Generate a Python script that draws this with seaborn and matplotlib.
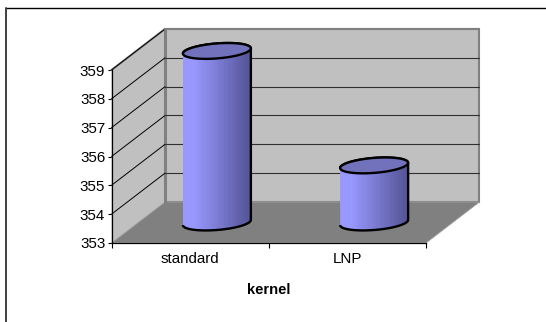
import matplotlib

matplotlib.use("Agg")
import matplotlib.pyplot as plt
import numpy as np
import pandas as pd
import seaborn as sns
from matplotlib.lines import Line2D
from matplotlib.patches import PathPatch, Polygon
from matplotlib.path import Path

CATEGORIES = ["standard", "LNP"]
VALUES = [358.95, 354.98]
Y_TICKS = [353, 354, 355, 356, 357, 358, 359]
X_LABEL = "kernel"

WIDTH_PX, HEIGHT_PX = 546, 322
BASE = Y_TICKS[0]
TOP = Y_TICKS[-1]
# depth of the fake 3d box, in data units
DX = 53.5 / 157.25
DY = 41.0 / 28.83
BAR_WIDTH = 68 / 157.25
RY = 7.5 / 28.83
TILT = 2.6 / 28.83
WALL = "#c0c0c0"
FLOOR = "#808080"


def ellipse_xy(cx, cy, start, stop, n=60):
    t = np.linspace(start, stop, n)
    rx = BAR_WIDTH / 2
    return cx + rx * np.cos(t), cy + RY * np.sin(t) + TILT * np.cos(t)


def draw_walls(ax):
    x0, x1 = -0.5, 1.5
    ax.add_patch(Polygon([(x0 + DX, BASE + DY), (x1 + DX, BASE + DY), (x1 + DX, TOP + DY), (x0 + DX, TOP + DY)],
                         fc=WALL, ec=FLOOR, lw=1.5, clip_on=False, zorder=1))
    ax.add_patch(Polygon([(x0, BASE), (x0 + DX, BASE + DY), (x0 + DX, TOP + DY), (x0, TOP)],
                         fc=WALL, ec="none", clip_on=False, zorder=1))
    ax.add_patch(Polygon([(x0, BASE), (x1, BASE), (x1 + DX, BASE + DY), (x0 + DX, BASE + DY)],
                         fc=FLOOR, ec="#a0a0a0", lw=0.6, clip_on=False, zorder=1.5))
    ax.add_line(Line2D([x0, x0 + DX], [TOP, TOP + DY], color=FLOOR, lw=1.5, clip_on=False, zorder=2))
    ax.add_line(Line2D([x0 + DX, x0 + DX], [BASE + DY, TOP + DY], color=FLOOR, lw=2.2, clip_on=False, zorder=2))
    for tick in Y_TICKS[1:]:
        ax.add_line(Line2D([x0, x0 + DX], [tick, tick + DY], color="black", lw=0.7, clip_on=False, zorder=2))
        if tick != TOP:
            ax.add_line(Line2D([x0 + DX, x1 + DX], [tick + DY, tick + DY], color="#303030", lw=0.8,
                               clip_on=False, zorder=2))
    ax.add_line(Line2D([x0 + DX, x1 + DX], [TOP + DY, TOP + DY], color=FLOOR, lw=1.5, clip_on=False, zorder=2))


def draw_cylinder(ax, bar):
    value = bar.get_height()
    left = bar.get_x() + DX / 2
    width = bar.get_width()
    cx = left + width / 2
    low = BASE + DY / 2
    high = value + DY / 2
    bar.set_visible(False)

    bx, by = ellipse_xy(cx, low, np.pi, 2 * np.pi)
    tx, ty = ellipse_xy(cx, high, 0, np.pi)
    outline = np.column_stack([np.r_[bx, tx], np.r_[by, ty]])
    body = PathPatch(Path(outline, closed=False), fc="none", ec="black", lw=1.7, clip_on=False, zorder=4)

    # stepped shading, the original gradient shows vertical bands
    shade = np.interp(np.linspace(0, 1, 28), [0, 0.15, 0.55, 1], [0.0, 0.0, 0.45, 1.0])
    light = np.array([152, 152, 255]) / 255
    dark = np.array([84, 84, 150]) / 255
    colours = (light + (dark - light) * shade[:, None])[None, :, :]
    image = ax.imshow(colours, extent=(left, left + width, low - RY * 1.3, high + RY * 1.3),
                      aspect="auto", zorder=3, interpolation="nearest")
    image.set_clip_box(ax.figure.bbox)
    image.set_clip_path(Polygon(outline, closed=True, transform=ax.transData))
    ax.add_patch(body)

    ex, ey = ellipse_xy(cx, high, 0, 2 * np.pi)
    ax.add_patch(Polygon(np.column_stack([ex, ey]), fc="#7272bc", ec="black", lw=1.7, clip_on=False, zorder=5))


def main():
    sns.set_theme(style="white")
    plt.rcParams["font.family"] = ["Liberation Sans", "DejaVu Sans"]
    fig = plt.figure(figsize=(WIDTH_PX / 100, HEIGHT_PX / 100), dpi=100)
    ax = fig.add_axes([111.5 / WIDTH_PX, 1 - 243 / HEIGHT_PX, 314.5 / WIDTH_PX, 173 / HEIGHT_PX])

    data = pd.DataFrame({"kernel": CATEGORIES, "value": VALUES})
    sns.barplot(data=data, x="kernel", y="value", width=BAR_WIDTH, ax=ax)
    ax.set_xlim(-0.5, 1.5)
    ax.set_ylim(BASE, TOP)
    bars = list(ax.patches)

    draw_walls(ax)
    for bar in bars:
        draw_cylinder(ax, bar)
    ax.set_xlim(-0.5, 1.5)
    ax.set_ylim(BASE, TOP)

    ax.set_yticks(Y_TICKS)
    ax.set_xticks([0, 1], CATEGORIES)
    ax.set_xticks([-0.5, 0.5, 1.5], minor=True)
    ax.tick_params(axis="x", which="major", length=0, labelsize=10.9, pad=6.5, labelcolor="black")
    ax.tick_params(axis="x", which="minor", length=3.5, width=0.8, color="black", bottom=True)
    ax.tick_params(axis="y", length=3, width=0.8, color="black", labelcolor="black", labelsize=10.9, pad=1.5, left=True)
    ax.set_xlabel(X_LABEL, fontsize=10.6, fontweight="bold", labelpad=12, color="black")
    ax.set_ylabel("")
    ax.patch.set_visible(False)
    for name, spine in ax.spines.items():
        spine.set_visible(name in ("left", "bottom"))
        spine.set_color("black")
        spine.set_linewidth(0.9)
        spine.set_zorder(6)

    # outer chart border
    fig.add_artist(Line2D([5.5 / WIDTH_PX, 1], [1 - 8 / HEIGHT_PX, 1 - 8 / HEIGHT_PX], color="black", lw=1.0))
    fig.add_artist(Line2D([6 / WIDTH_PX, 6 / WIDTH_PX], [0, 1 - 8 / HEIGHT_PX], color="#404040", lw=1.4))
    fig.savefig("out.png", dpi=100)
    plt.close(fig)


if __name__ == "__main__":
    main()
